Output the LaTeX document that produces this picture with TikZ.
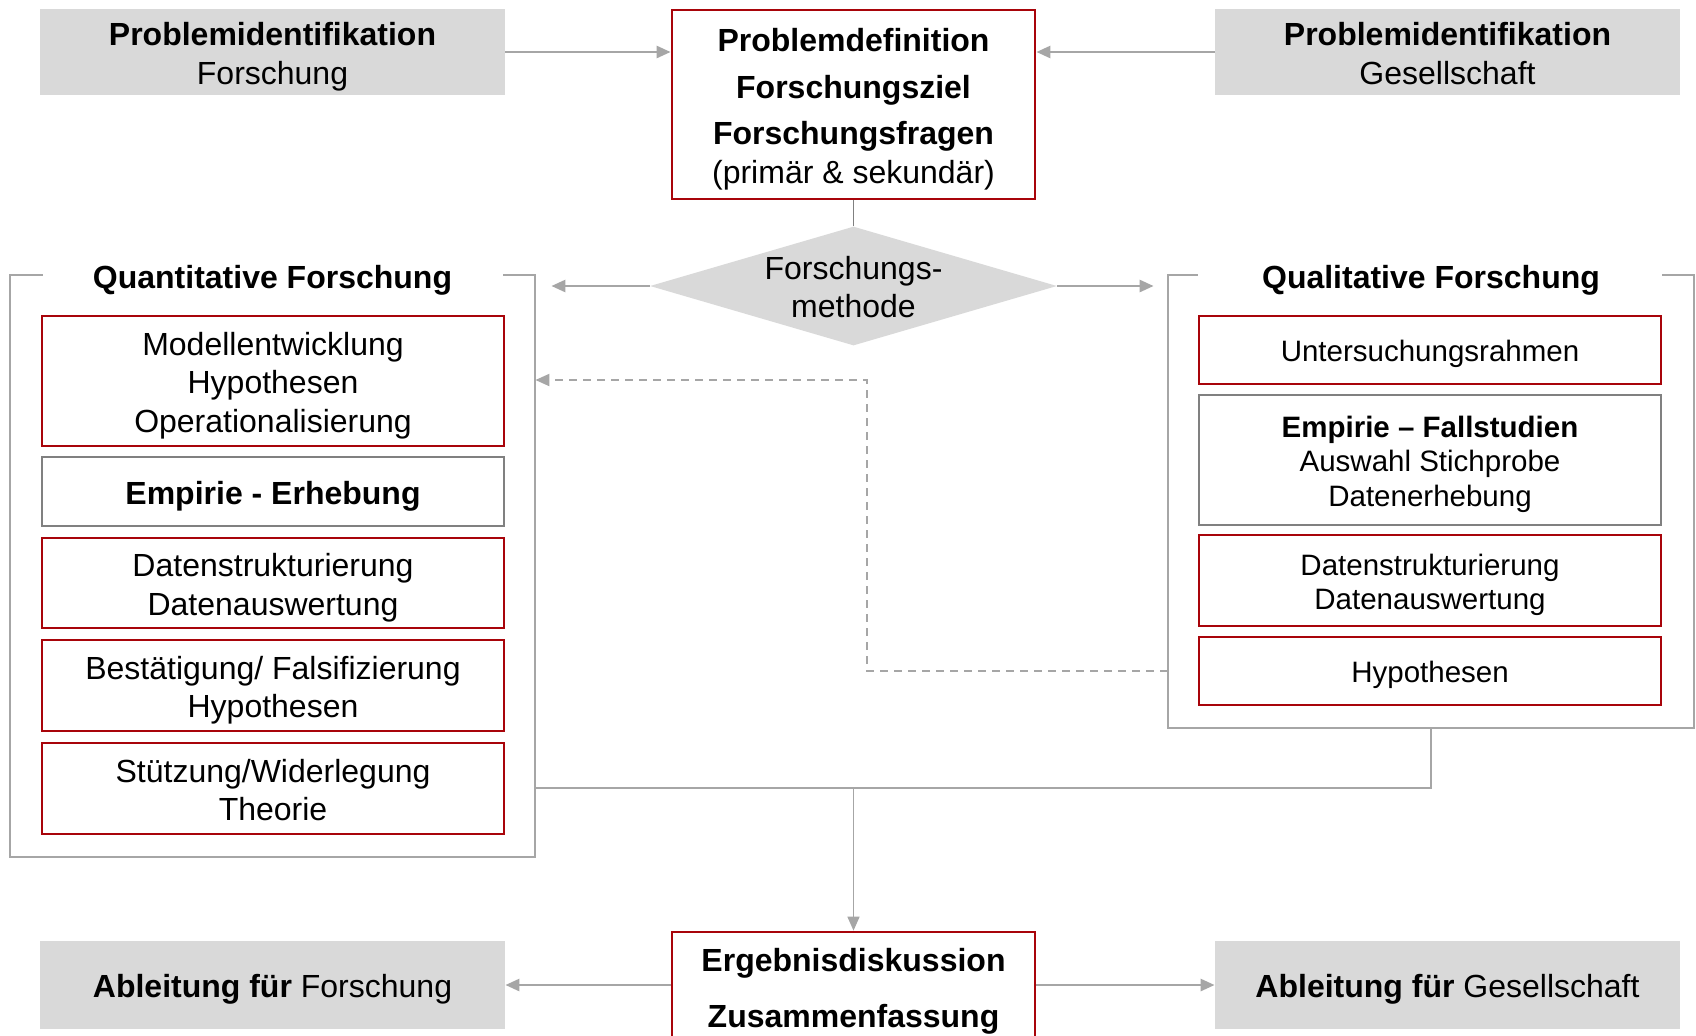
\documentclass[tikz,border=0pt]{standalone}
\usepackage{fontspec}
\setmainfont{Liberation Sans}
\usetikzlibrary{arrows.meta,shapes.geometric,calc}
\definecolor{darkred}{RGB}{168,4,10}
\definecolor{gfill}{HTML}{D9D9D9}
\definecolor{gline}{HTML}{A6A6A6}
\definecolor{gdark}{HTML}{808080}
\newcommand\tp{\rule{0pt}{1.02em}}
\newcommand\bt{\rule[-0.21em]{0pt}{0.21em}}
\begin{document}
\begin{tikzpicture}[x=0.5pt,y=-0.5pt,
  fbig/.style={font=\fontsize{16pt}{19.2pt}\selectfont},
  fsmall/.style={font=\fontsize{14.75pt}{17.4pt}\selectfont},
  ftitle/.style={font=\fontsize{16pt}{19pt}\selectfont\bfseries},
  graybox/.style={fill=gfill, draw=none, minimum width=232.5pt, minimum height=43pt, inner sep=0pt, align=center, fbig},
  redbox/.style={draw=darkred, line width=1.4pt, fill=white, minimum width=231pt, inner sep=0pt, align=center, fbig},
  empbox/.style={draw=gdark, line width=1.3pt, fill=white, minimum width=231pt, inner sep=0pt, align=center, fbig},
  contbox/.style={draw=none, inner sep=0pt},
  contline/.style={draw=gline, line width=1pt},
  arr/.style={draw=gline, line width=1.3pt, -{Triangle[length=7pt,width=6pt]}},
  thinarr/.style={draw=gline, line width=0.8pt, -{Triangle[length=7pt,width=6pt]}},
  dasharr/.style={draw=gline, line width=1pt, dash pattern=on 4pt off 3pt, -{Triangle[length=7pt,width=6pt]}},
  diam/.style={diamond, fill=gfill, draw=none, inner sep=0pt, minimum width=203.5pt, minimum height=59.5pt}
]
\clip (0,0) rectangle (1696,1035);
\fill[white] (0,0) rectangle (1696,1035);

% top row
\node[graybox] (pf) at (272.5,52) {\tp\textbf{Problemidentifikation}\\Forschung\bt};
\node[graybox] (pg) at (1447.5,52) {\tp\textbf{Problemidentifikation}\\Gesellschaft\bt};
\node[redbox, minimum width=181.5pt, minimum height=94.5pt] (ctr) at (853.5,104.5)
  {\tp\textbf{Problemdefinition}\\[4pt]\textbf{Forschungsziel}\\[4pt]\textbf{Forschungsfragen}\\(primär \& sekundär)\bt};
\draw[arr] (pf.east) -- (pf.east -| ctr.west);
\draw[arr] (pg.west) -- (pg.west -| ctr.east);

% method diamond
\node[diam] (meth) at (853.5,286) {};
\node[fbig, align=center, inner sep=0pt] (methtxt) at (853.5,287) {Forschungs-\\methode};
\draw[gdark, line width=0.8pt] (ctr.south) -- (meth.north);

% containers
\node[contbox, minimum width=262.5pt, minimum height=291pt] (quant) at (272.5,566) {};
\node[contbox, minimum width=263pt, minimum height=226.5pt] (qual) at (1431,501.5) {};
\draw[contline] ([xshift=16.5pt]quant.north west) -- (quant.north west) -- (quant.south west)
  -- (quant.south east) -- (quant.north east) -- ([xshift=-16pt]quant.north east);
\draw[contline] ([xshift=15pt]qual.north west) -- (qual.north west) -- (qual.south west)
  -- (qual.south east) -- (qual.north east) -- ([xshift=-16pt]qual.north east);
\node[ftitle] (quanttitle) at (272.5,280) {Quantitative Forschung};
\node[ftitle] (qualtitle) at (1431,280) {Qualitative Forschung};

\draw[arr, shorten >=8pt] (meth.west) -- (meth.west -| quant.east);
\draw[arr, shorten >=7pt] (meth.east) -- (meth.east -| qual.west);

% quantitative boxes
\node[redbox, minimum height=65pt] (b1) at (273,381) {\tp Modellentwicklung\\Hypothesen\\Operationalisierung\bt};
\node[empbox, minimum height=34.5pt] (b2) at (273,491.5) {\tp\textbf{Empirie - Erhebung}\bt};
\node[redbox, minimum height=45pt] (b3) at (273,583) {\tp Datenstrukturierung\\Datenauswertung\bt};
\node[redbox, minimum height=45.5pt] (b4) at (273,685.5) {\tp Bestätigung/ Falsifizierung\\Hypothesen\bt};
\node[redbox, minimum height=45.5pt] (b5) at (273,788.5) {\tp Stützung/Widerlegung\\Theorie\bt};

% qualitative boxes
\node[redbox, fsmall, minimum height=34pt] (r1) at (1430,350) {\tp Untersuchungsrahmen\bt};
\node[empbox, fsmall, minimum height=65pt] (r2) at (1430,460) {\tp\textbf{Empirie – Fallstudien}\\Auswahl Stichprobe\\Datenerhebung\bt};
\node[redbox, fsmall, minimum height=45.5pt] (r3) at (1430,580.5) {\tp Datenstrukturierung\\Datenauswertung\bt};
\node[redbox, fsmall, minimum height=34pt] (r4) at (1430,671) {\tp Hypothesen\bt};

% dashed feedback
\coordinate (dk) at (867,380);
\draw[dasharr] (qual.west |- r4.center) -| (dk) -- (dk -| quant.east);

% merge to results
\coordinate (jn) at (853.5,788);
\draw[draw=gline, line width=1.3pt] (jn -| quant.east) -| (qual.south);

% bottom row
\node[redbox, minimum width=181.5pt, minimum height=59.75pt] (ergeb) at (853.5,991.75)
  {\textbf{Ergebnisdiskussion}\\[8.8pt]\textbf{Zusammenfassung}};
\draw[thinarr] (jn) -- (ergeb.north);
\node[graybox, minimum height=44pt] (bf) at (272.5,985) {\tp\textbf{Ableitung für} Forschung\bt};
\node[graybox, minimum height=44pt] (bg) at (1447.5,985) {\tp\textbf{Ableitung für} Gesellschaft\bt};
\draw[arr] (bf.east -| ergeb.west) -- (bf.east);
\draw[arr] (bg.west -| ergeb.east) -- (bg.west);
\end{tikzpicture}
\end{document}
